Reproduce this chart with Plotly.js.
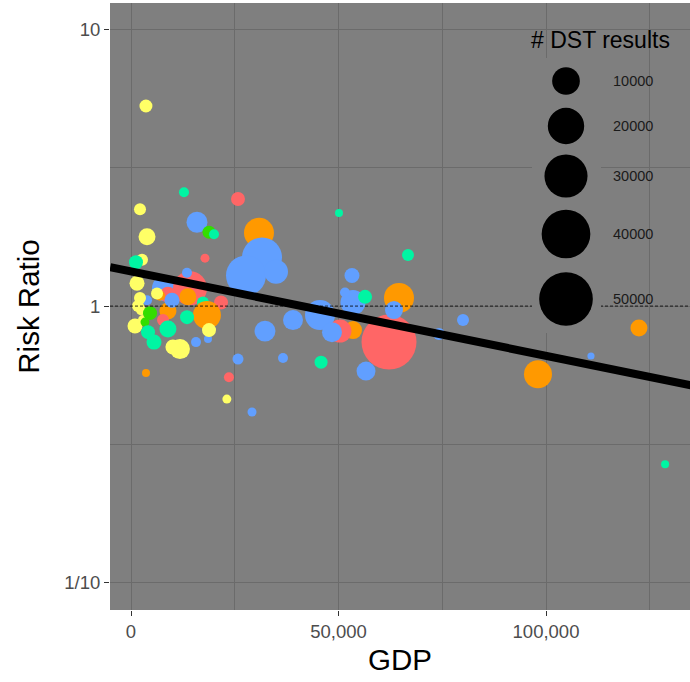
<!DOCTYPE html>
<html><head><meta charset="utf-8">
<script src="https://cdn.plot.ly/plotly-3.0.1.min.js"></script>
<style>html,body{margin:0;padding:0;background:#fff}#chart{width:690px;height:682px}</style>
</head><body><div id="chart"></div>
<script>
// ---- data ----
const gdp = [
  62170, 30840, 31570, 27710, 8190, 14220, 34940, 45540, 53490, 64580,
  63370, 98070, 122400, 21690, 17350, 18300, 13700, 8900, 8900, 9880,
  7000, 53500, 50360, 48430, 39040, 32290, 56630, 15900, 53250, 13490,
  80000, 110840, 74220, 51570, 36630, 25780, 29160, 18550, 15660, 3860,
  25780, 17830, 23600, 7710,
  3600, 2170, 3860, 2650, 1450, 2170, 6270, 1690, 960, 2890,
  11800, 10100, 18800, 23100, 2410,
  18800, 4580, 3370,
  12770, 20000, 66750, 50120, 1200, 13500, 8900, 4100, 5540, 45800,
  56400, 128700,
  3610
];
const riskRatio = [
  0.741, 1.84, 1.50, 1.29, 1.16, 1.16, 1.33, 0.928, 1.03, 1.07,
  0.967, 0.567, 0.833, 1.03, 1.03, 0.928, 1.08, 0.959, 1.10, 1.05,
  1.09, 0.819, 0.812, 0.805, 0.89, 0.812, 0.582, 2.01, 1.29, 1.32,
  0.89, 0.66, 0.792, 1.12, 0.649, 0.643, 0.414, 0.76, 0.741, 1.05,
  2.44, 1.49, 0.553, 0.89,
  5.29, 2.24, 1.78, 1.47, 1.21, 1.07, 1.11, 1.0, 0.847, 0.89,
  0.699, 0.711, 0.819, 0.461, 0.967,
  1.85, 0.943, 0.875,
  2.58, 1.82, 1.53, 2.17, 1.44, 0.912, 0.826, 0.805, 0.741, 0.627,
  1.08, 0.268,
  0.573
];
const dstResults = [
  52900, 12300, 25100, 25100, 8400, 16900, 6800, 12300, 7600, 12300,
  2900, 10300, 2400, 1200, 640, 10300, 2400, 2400, 1960, 1560,
  250, 2900, 6000, 4000, 4000, 4600, 3400, 4600, 1560, 250,
  640, 5, 640, 250, 250, 420, 120, 40, 250, 250,
  1200, 120, 250, 640,
  900, 640, 2400, 640, 1560, 640, 640, 640, 1560, 250,
  4000, 1560, 1200, 120, 250,
  900, 1200, 120,
  250, 250, 640, 40, 1200, 1200, 2400, 1200, 1560, 900,
  1200, 40,
  40
];
const region = [
  'EUR','AMR','WPR','WPR','WPR','EUR','WPR','WPR','WPR','AMR',
  'WPR','AMR','AMR','EUR','SEAR','AMR','AMR','AMR','EUR','WPR',
  'AMR','AMR','EUR','WPR','WPR','WPR','WPR','WPR','WPR','WPR',
  'WPR','WPR','WPR','WPR','WPR','WPR','WPR','WPR','WPR','WPR',
  'EUR','EUR','EUR','EUR',
  'AFR','AFR','AFR','AFR','AFR','AFR','AFR','AFR','AFR','AFR',
  'AFR','AFR','AFR','AFR','AFR',
  'EMR','EMR','EMR',
  'SEAR','SEAR','SEAR','SEAR','SEAR','SEAR','SEAR','SEAR','SEAR','SEAR',
  'SEAR','SEAR',
  'AMR'
];
const regionColors = {EUR:'#ff6666', AMR:'#ff9900', AFR:'#ffff66', SEAR:'#00f5a3', EMR:'#33dd00', WPR:'#619fff'};
const legendValues = [10000, 20000, 30000, 40000, 50000];
const fitGdp = [-5000, 135000];
const fitRiskRatio = [1.383, 0.517];
const xTickVals = [0, 50000, 100000];
const xTickText = ['0', '50,000', '100,000'];
const yTickVals = [0.1, 1, 10];
const yTickText = ['1/10', '1', '10'];

// size scale (diameter in px grows with sqrt of count)
function sizeScale(n){ return 6.7 + 0.21*Math.sqrt(n); }

const points = {
  type:'scatter', mode:'markers', x:gdp, y:riskRatio,
  marker:{size:dstResults.map(sizeScale), color:region.map(r=>regionColors[r]), opacity:1, line:{width:0}},
  showlegend:false, hoverinfo:'skip', cliponaxis:true
};
const fit = {
  type:'scatter', mode:'lines', x:fitGdp, y:fitRiskRatio,
  line:{color:'#000', width:8}, showlegend:false, hoverinfo:'skip'
};

// layout geometry helpers for the in-panel size legend
const L = 110, R = 690, T = 3, B = 610;
const px = v => (v - L)/(R - L);
const py = v => (B - v)/(B - T);
const keyY = [81, 126, 176, 234, 299];

const shapes = [
  {type:'line', xref:'paper', yref:'y', x0:0, x1:1, y0:1, y1:1, line:{color:'#000', width:0.8, dash:'3px,2px'}, layer:'above'},
  {type:'rect', xref:'paper', yref:'paper', x0:px(532), x1:px(601), y0:py(333), y1:py(58), fillcolor:'#7f7f7f', line:{width:0}, layer:'above'}
];
const annotations = [
  {xref:'paper', yref:'paper', x:px(600), y:py(40), text:'# DST results', showarrow:false, xanchor:'center', yanchor:'middle', font:{size:23, color:'#000', family:'Liberation Sans, Arial, sans-serif'}}
];
legendValues.forEach((v,i)=>{
  const r = sizeScale(v)/2;
  shapes.push({type:'circle', xref:'paper', yref:'paper', xsizemode:'pixel', ysizemode:'pixel',
    xanchor:px(566), yanchor:py(keyY[i]), x0:-r, x1:r, y0:-r, y1:r, fillcolor:'#000', line:{width:0}, layer:'above'});
  annotations.push({xref:'paper', yref:'paper', x:px(611), y:py(keyY[i]), text:String(v), showarrow:false,
    xanchor:'left', yanchor:'middle', font:{size:14.5, color:'#1a1a1a', family:'Liberation Sans, Arial, sans-serif'}});
});

const layout = {
  width:690, height:682,
  margin:{l:110, r:0, t:3, b:72, pad:0},
  paper_bgcolor:'#ffffff', plot_bgcolor:'#7f7f7f',
  font:{family:'Liberation Sans, Arial, sans-serif'},
  xaxis:{range:[-5060, 134700], tickvals:xTickVals, ticktext:xTickText, ticks:'outside', ticklen:5, tickwidth:1, tickcolor:'#333',
    tickfont:{size:18.5, color:'#4d4d4d'}, showgrid:true, gridcolor:'#6b6b6b', gridwidth:1, zeroline:false, showline:false,
    minor:{tickvals:[25000, 75000, 125000], showgrid:true, gridcolor:'#6b6b6b', gridwidth:1, ticks:''},
    title:{text:'GDP', font:{size:29.5, color:'#000'}, standoff:8}},
  yaxis:{type:'log', range:[-1.099, 1.096], tickvals:yTickVals, ticktext:yTickText, ticks:'outside', ticklen:5, tickwidth:1, tickcolor:'#333',
    tickfont:{size:18.5, color:'#4d4d4d'}, showgrid:true, gridcolor:'#6b6b6b', gridwidth:1, zeroline:false, showline:false,
    minor:{tickvals:[0.3162, 3.162], showgrid:true, gridcolor:'#6b6b6b', gridwidth:1, ticks:''},
    title:{text:'Risk Ratio', font:{size:29.5, color:'#000'}, standoff:15}},
  shapes:shapes, annotations:annotations
};

Plotly.newPlot('chart', [points, fit], layout, {staticPlot:true, displayModeBar:false});
</script>
</body></html>
